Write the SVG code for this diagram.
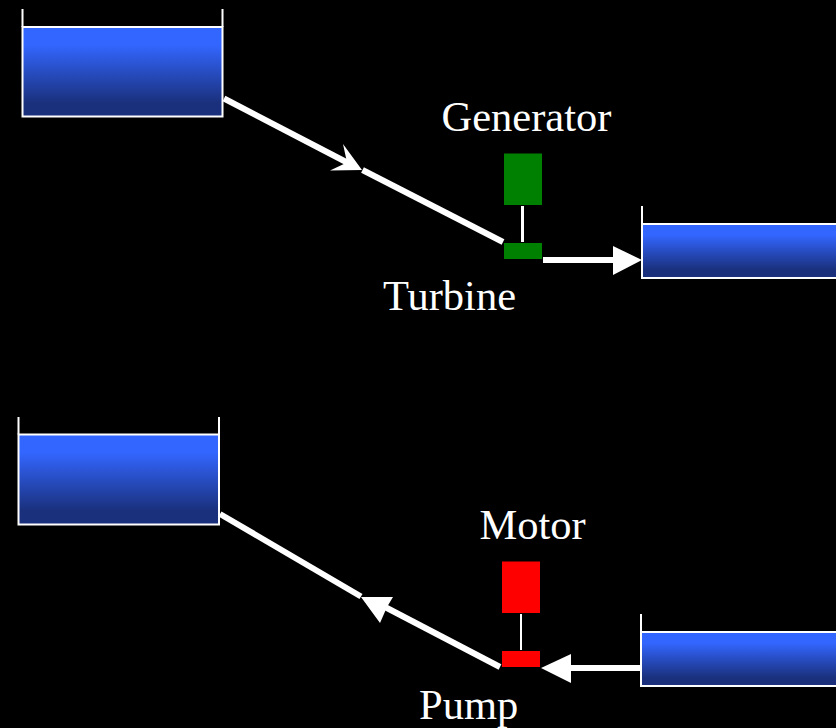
<svg xmlns="http://www.w3.org/2000/svg" width="836" height="728" viewBox="0 0 836 728">
<style>
.label{font-family:"Liberation Serif","Times New Roman",serif;font-size:42.500px;fill:#fff}
.water{fill:url(#water);stroke:#fff;stroke-width:2}
.wall{fill:none;stroke:#fff;stroke-width:2}
.pipe{fill:none;stroke:#fff;stroke-width:6}
.head{fill:#fff;stroke:none}
.green{fill:#008000}
.red{fill:#f00}
.shaft{stroke:#fff;fill:none}
</style>
<defs>
<linearGradient id="water" x1="0" y1="0" x2="0" y2="1">
<stop offset="0" stop-color="#3366ff"/>
<stop offset="0.2" stop-color="#3366ff"/>
<stop offset="0.85" stop-color="#1a307c"/>
<stop offset="1" stop-color="#1a307c"/>
</linearGradient>
</defs>
<rect width="836" height="728" fill="#000"/>
<g id="tank-upper-top">
<rect class="water" x="22.500" y="27" width="200" height="89.500"/>
<path class="wall" d="M22.500 9V27M222.500 9V27"/>
</g>
<g id="tank-lower-top">
<rect class="water" x="642" y="224" width="200" height="54"/>
<path class="wall" d="M642 206V224"/>
</g>
<g id="tank-upper-bottom">
<rect class="water" x="18.500" y="434.500" width="200.500" height="90"/>
<path class="wall" d="M18.500 417V434.500M219 417V434.500"/>
</g>
<g id="tank-lower-bottom">
<rect class="water" x="641" y="632" width="200" height="54"/>
<path class="wall" d="M641 614V632"/>
</g>
<g id="generator">
<rect class="green" x="504" y="153.500" width="38" height="51.500"/>
<text class="label" x="441.500" y="131">Generator</text>
</g>
<g id="turbine">
<rect class="green" x="504" y="243" width="38" height="16"/>
<text class="label" x="383" y="310">Turbine</text>
</g>
<g id="motor">
<rect class="red" x="502" y="561.500" width="38" height="51.500"/>
<text class="label" x="479.500" y="539">Motor</text>
</g>
<g id="pump">
<rect class="red" x="502" y="651" width="38" height="16"/>
<text class="label" x="419" y="719">Pump</text>
</g>
<g id="connectors">
<path class="shaft" stroke-width="3" d="M522.500 206V242"/>
<path class="shaft" stroke-width="2" d="M521 614V650"/>
<path class="pipe" d="M224 98.500L350 164"/>
<path class="head" d="M362 170L330 170.500L347 162.500L343 144Z"/>
<path class="pipe" d="M362.500 170L503 242"/>
<path class="pipe" d="M543 260H614"/>
<path class="head" d="M642 260L613 246V275Z"/>
<path class="pipe" d="M220 514L361 596.500"/>
<path class="head" d="M361 597L393 597L387 607L380 623Z"/>
<path class="pipe" d="M385 607L500 667"/>
<path class="pipe" d="M641 668H570"/>
<path class="head" d="M541 668L571 654V683Z"/>
</g>
</svg>
